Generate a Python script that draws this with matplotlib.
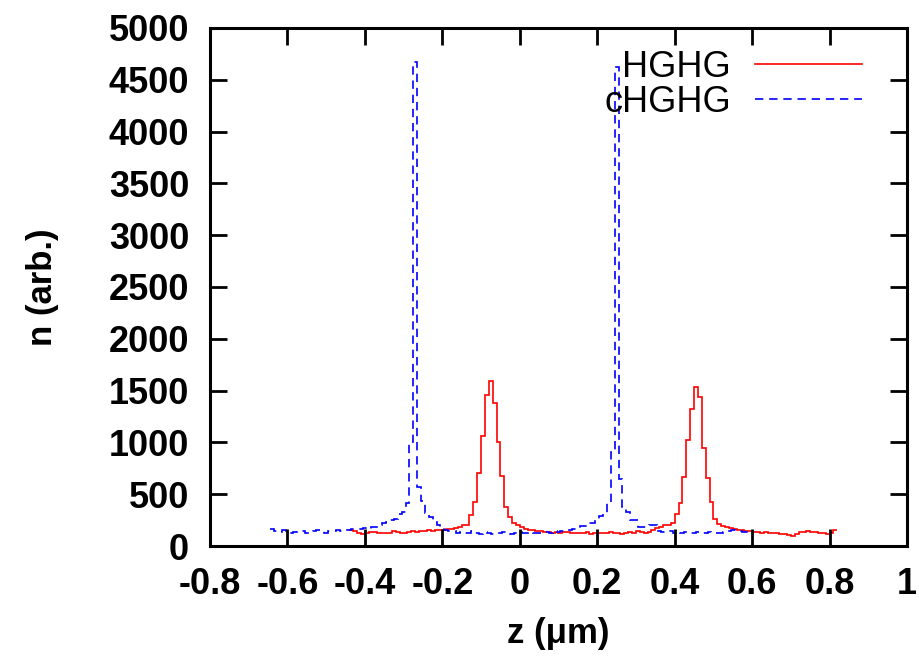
import matplotlib
matplotlib.use("Agg")
import matplotlib.pyplot as plt
import numpy as np

# histogram bins (left edge, width) and counts
hghg_start = -0.44
hghg_width = 0.01
hghg_counts = [150, 140, 128, 118, 130, 138, 132, 125, 130, 122,
               128, 140, 135, 130, 125, 135, 142, 132, 140, 145,
               150, 142, 150, 158, 150, 160, 168, 172, 185, 200,
               205, 299, 428, 708, 1062, 1458, 1596, 1383, 1007, 676,
               376, 283, 222, 203, 180, 165, 150, 155, 140, 142,
               135, 138, 130, 135, 128, 132, 138, 125, 130, 122,
               128, 135, 118, 125, 130, 122, 128, 132, 125, 130,
               120, 128, 135, 130, 142, 135, 128, 138, 150, 170,
               185, 198, 205, 219, 309, 412, 663, 1023, 1320, 1532,
               1441, 949, 653, 422, 258, 212, 196, 180, 175, 161,
               155, 150, 145, 140, 138, 135, 130, 135, 128, 125,
               128, 120, 118, 105, 100, 118, 135, 132, 140, 135,
               138, 130, 125, 120, 130, 150]

chghg_start = -0.645
chghg_width = 0.01
chghg_counts = [160, 145, 135, 150, 140, 125, 135, 145, 140, 130,
                125, 140, 150, 145, 130, 140, 145, 150, 145, 155,
                150, 160, 165, 160, 170, 165, 180, 185, 200, 222,
                230, 251, 260, 309, 330, 415, 1000, 4670, 570, 430,
                320, 280, 230, 205, 180, 150, 145, 140, 130, 135,
                125, 130, 140, 128, 120, 135, 125, 115, 130, 125,
                135, 128, 120, 130, 135, 125, 130, 138, 128, 125,
                132, 135, 128, 140, 138, 145, 150, 155, 160, 175,
                193, 195, 219, 225, 258, 290, 315, 412, 910, 4620,
                644, 380, 333, 250, 250, 186, 186, 186, 203, 200,
                140, 138, 135, 140, 130, 135, 128, 132, 130, 125,
                135, 128, 130, 135, 125, 130, 128, 135, 140, 150,
                145, 140, 138, 135, 140]

x_ticks = [-0.8, -0.6, -0.4, -0.2, 0, 0.2, 0.4, 0.6, 0.8, 1.0]
x_labels = ['-0.8', '-0.6', '-0.4', '-0.2', '0', '0.2', '0.4', '0.6', '0.8', '1']
y_ticks = list(range(0, 5001, 500))

hghg_edges = np.round(hghg_start + hghg_width * np.arange(len(hghg_counts) + 1), 4)
chghg_edges = np.round(chghg_start + chghg_width * np.arange(len(chghg_counts) + 1), 4)

plt.rcParams['font.family'] = ['Liberation Sans', 'DejaVu Sans']

fig = plt.figure(figsize=(9.2, 6.66), dpi=100)
ax = fig.add_axes([210 / 920, 120 / 666, 697 / 920, 518 / 666])

ax.stairs(hghg_counts, hghg_edges, baseline=None, color='#ff0000', linewidth=1.2, label='HGHG')
ax.stairs(chghg_counts, chghg_edges, baseline=None, color='#0000ff', linewidth=1.2,
          linestyle=(0, (5, 3.5)), label='cHGHG')

ax.set_xlim(-0.8, 1.0)
ax.set_ylim(0, 5000)
ax.set_xticks(x_ticks)
ax.set_xticklabels(x_labels)
ax.set_yticks(y_ticks)
ax.tick_params(direction='in', length=12, width=2, labelsize=26, top=True, right=True)
ax.tick_params(axis='x', pad=15)
ax.tick_params(axis='y', pad=15)
for t in ax.get_xticklabels() + ax.get_yticklabels():
    t.set_fontweight('bold')
for s in ax.spines.values():
    s.set_linewidth(2.2)

ax.set_xlabel('z (μm)', fontsize=25, fontweight='bold', labelpad=11)
ax.set_ylabel('n (arb.)', fontsize=25, fontweight='bold', labelpad=36)

leg = ax.legend(loc='upper right', markerfirst=False, frameon=False, fontsize=26,
                handlelength=2.95, handletextpad=0.68, labelspacing=0.0,
                bbox_to_anchor=((862 - 210) / 697, 0.958), borderaxespad=0, borderpad=0)

fig.savefig('out.png', dpi=100)
